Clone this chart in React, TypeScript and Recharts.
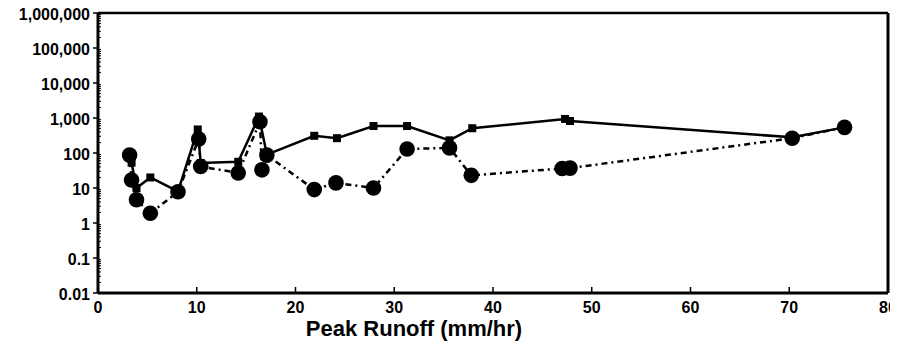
import React from 'react';
import { LineChart, Line, XAxis, YAxis, ReferenceLine } from 'recharts';

const circleX = [3.2, 3.4, 3.9, 5.3, 8.1, 10.2, 10.4, 14.2, 16.4, 16.6, 17.1, 21.9, 24.1, 27.9, 31.3, 35.6, 37.8, 47.0, 47.8, 70.3, 75.6];
const circleY = [87, 17, 4.6, 1.9, 7.8, 250, 41, 27, 780, 33, 87, 9, 14, 10, 130, 140, 23, 36, 37, 265, 540];

const squareX = [3.2, 3.4, 3.9, 5.3, 8.1, 10.1, 10.4, 14.2, 16.3, 17.1, 21.9, 24.2, 27.9, 31.3, 35.6, 37.9, 47.3, 47.8, 70.3, 75.6];
const squareY = [90, 53, 10, 20, 8, 470, 52, 56, 1100, 90, 310, 265, 590, 590, 230, 510, 940, 820, 280, 540];

const xTicks = [0, 10, 20, 30, 40, 50, 60, 70, 80];
const yMajor = [0.01, 0.1, 1, 10, 100, 1000, 10000, 100000, 1000000];
const yTickLabels = ['0.01', '0.1', '1', '10', '100', '1,000', '10,000', '100,000', '1,000,000'];
const xLabel = 'Peak Runoff (mm/hr)';

const circleData = circleX.map((x, i) => ({ x, y: circleY[i] }));
const squareData = squareX.map((x, i) => ({ x, y: squareY[i] }));

const yTicks: number[] = [];
yMajor.forEach((m, i) => {
  yTicks.push(m);
  if (i < yMajor.length - 1) {
    for (let k = 2; k <= 9; k++) yTicks.push(+(m * k).toPrecision(3));
  }
});

const FONT = '"Liberation Sans", Arial, sans-serif';

const YTick = (props: any) => {
  const { x, y, payload } = props;
  const idx = yMajor.findIndex((m) => Math.abs(m - payload.value) / m < 1e-6);
  if (idx < 0) {
    return <line x1={x} x2={x + 3} y1={y} y2={y} stroke="#000" strokeWidth={1} />;
  }
  return (
    <g>
      <line x1={x - 5} x2={x} y1={y} y2={y} stroke="#000" strokeWidth={1.5} />
      <text x={x - 8} y={y + 7} textAnchor="end" fontFamily={FONT} fontWeight="bold" fontSize={16} fill="#000">
        {yTickLabels[idx]}
      </text>
    </g>
  );
};

const XTick = (props: any) => {
  const { x, y, payload } = props;
  return (
    <g>
      <line x1={x} x2={x} y1={y} y2={y - 6} stroke="#000" strokeWidth={1.5} />
      <text x={x} y={y + 20} textAnchor="middle" fontFamily={FONT} fontWeight="bold" fontSize={16} fill="#000">
        {String(payload.value)}
      </text>
    </g>
  );
};

const CircleDot = (props: any) => {
  const { cx, cy, index } = props;
  if (cx == null || cy == null) return <g key={`c${index}`} />;
  return <circle key={`c${index}`} cx={cx} cy={cy} r={7.8} fill="#000" />;
};

const SquareDot = (props: any) => {
  const { cx, cy, index } = props;
  if (cx == null || cy == null) return <g key={`s${index}`} />;
  return <rect key={`s${index}`} x={cx - 4} y={cy - 4} width={8} height={8} fill="#000" />;
};

const XLabel = (props: any) => {
  const vb = props.viewBox || { x: 90, y: 290, width: 790, height: 53 };
  return (
    <text
      x={vb.x + vb.width / 2 - 79}
      y={vb.y + 43}
      textAnchor="middle"
      fontFamily={FONT}
      fontWeight="bold"
      fontSize={22}
      fill="#000"
    >
      {xLabel}
    </text>
  );
};

export default function App() {
  return (
    <div style={{ background: '#fff', marginTop: -5 }}>
      <LineChart width={890} height={343} margin={{ top: 10, right: 10, left: 0, bottom: 0 }}>
        <XAxis
          type="number"
          dataKey="x"
          domain={[0, 80]}
          ticks={xTicks}
          interval={0}
          allowDataOverflow
          height={53}
          tickSize={0}
          tickMargin={0}
          tickLine={false}
          axisLine={{ stroke: '#000', strokeWidth: 3 }}
          tick={<XTick />}
          label={<XLabel />}
        />
        <YAxis
          type="number"
          dataKey="y"
          scale="log"
          domain={[0.01, 1000000]}
          ticks={yTicks}
          interval={0}
          allowDataOverflow
          width={90}
          tickSize={0}
          tickMargin={0}
          tickLine={false}
          axisLine={{ stroke: '#000', strokeWidth: 3 }}
          tick={<YTick />}
        />
        <ReferenceLine y={1000000} stroke="#000" strokeWidth={2.5} ifOverflow="visible" />
        <ReferenceLine x={80} stroke="#000" strokeWidth={3} ifOverflow="visible" />
        <Line
          data={squareData}
          dataKey="y"
          stroke="#000"
          strokeWidth={2.5}
          dot={SquareDot}
          activeDot={false}
          isAnimationActive={false}
        />
        <Line
          data={circleData}
          dataKey="y"
          stroke="#000"
          strokeWidth={2.5}
          strokeDasharray="6 4 2 4"
          dot={CircleDot}
          activeDot={false}
          isAnimationActive={false}
        />
      </LineChart>
    </div>
  );
}
